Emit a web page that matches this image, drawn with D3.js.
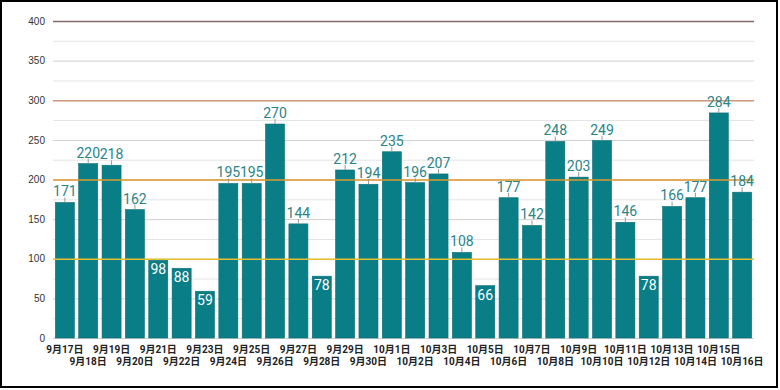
<!DOCTYPE html>
<html>
<head>
<meta charset="utf-8">
<script src="https://cdn.jsdelivr.net/npm/d3@7"></script>
<style>
  body { margin: 0; background: #fff; }
  svg { display: block; font-family: Roboto, "Noto Sans CJK JP", sans-serif; }
</style>
</head>
<body>
<div id="chart"></div>
<script>
// data
var dates = ["9月17日","9月18日","9月19日","9月20日","9月21日","9月22日","9月23日","9月24日","9月25日","9月26日",
             "9月27日","9月28日","9月29日","9月30日","10月1日","10月2日","10月3日","10月4日","10月5日","10月6日",
             "10月7日","10月8日","10月9日","10月10日","10月11日","10月12日","10月13日","10月14日","10月15日","10月16日"];
var counts = [171,220,218,162,98,88,59,195,195,270,
              144,78,212,194,235,196,207,108,66,177,
              142,248,203,249,146,78,166,177,284,184];
var yTicks = [0,50,100,150,200,250,300,350,400];
var refLines = [100,200,300,400];
var refColors = ["#e6be2e","#e09a2c","#cf9a80","#86686a"];

var width = 780, height = 390;
var margin = {top: 21, right: 26, bottom: 52, left: 53};

var svg = d3.select("#chart")
  .append("svg")
    .attr("width", width)
    .attr("height", height);

var x = d3.scaleBand()
    .domain(dates)
    .range([margin.left, width - margin.right])
    .paddingInner(0.185)
    .paddingOuter(0.1);

var y = d3.scaleLinear()
    .domain([0, 400])
    .range([height - margin.bottom, margin.top]);

// gridlines every 25
svg.append("g")
  .selectAll("line")
  .data(d3.range(0, 401, 25))
  .enter()
  .append("line")
    .attr("x1", margin.left)
    .attr("x2", width - margin.right)
    .attr("y1", function(d) { return y(d) + 0.5; })
    .attr("y2", function(d) { return y(d) + 0.5; })
    .style("stroke", function(d) { return d % 50 == 0 ? "#d0d0d0" : "#e4e4e4"; })
    .style("stroke-width", 1);

// y axis labels
var yAxis = svg.append("g")
    .attr("transform", "translate(" + margin.left + ",0)")
    .call(d3.axisLeft(y).tickValues(yTicks).tickSize(0).tickPadding(8));
yAxis.select(".domain").remove();
yAxis.selectAll("text")
    .style("font-size", "10px")
    .style("fill", "#333");

// bars
svg.append("g")
  .selectAll("rect")
  .data(counts)
  .enter()
  .append("rect")
    .attr("x", function(d, i) { return x(dates[i]); })
    .attr("y", function(d) { return y(d); })
    .attr("width", x.bandwidth())
    .attr("height", function(d) { return y(0) - y(d); })
    .style("fill", "#0a7e87")
    .style("stroke", "#0b6e75")
    .style("stroke-width", 0.6);

// reference lines
svg.append("g")
  .selectAll("line")
  .data(refLines)
  .enter()
  .append("line")
    .attr("x1", margin.left)
    .attr("x2", width - margin.right)
    .attr("y1", function(d) { return y(d) + 0.5; })
    .attr("y2", function(d) { return y(d) + 0.5; })
    .style("stroke", function(d, i) { return refColors[i]; })
    .style("stroke-width", 1.6);

// value labels
var lab = svg.append("g");
counts.forEach(function(d, i) {
  var cx = x(dates[i]) + x.bandwidth() / 2;
  if (d < 100) {
    lab.append("text")
      .attr("x", cx)
      .attr("y", y(d) + 14)
      .attr("text-anchor", "middle")
      .style("font-size", "14px")
      .style("fill", "#fff")
      .text(d);
  } else {
    lab.append("line")
      .attr("x1", cx).attr("x2", cx)
      .attr("y1", y(d) - 5).attr("y2", y(d))
      .style("stroke", "#999")
      .style("stroke-width", 1);
    lab.append("text")
      .attr("x", cx)
      .attr("y", y(d) - 6)
      .attr("text-anchor", "middle")
      .style("font-size", "14px")
      .style("fill", "#2a8587")
      .text(d);
  }
});

// x labels, alternating rows
svg.append("g")
  .selectAll("text")
  .data(dates)
  .enter()
  .append("text")
    .attr("x", function(d) { return x(d) + x.bandwidth() / 2; })
    .attr("y", function(d, i) { return i % 2 == 0 ? 353 : 364.5; })
    .attr("text-anchor", "middle")
    .style("font-size", "10px")
    .style("font-weight", "bold")
    .style("fill", "#222")
    .text(function(d) { return d; });

// outer frame
svg.append("rect")
    .attr("x", 1).attr("y", 1)
    .attr("width", 776).attr("height", 386)
    .style("fill", "none")
    .style("stroke", "#000")
    .style("stroke-width", 2);
</script>
</body>
</html>
